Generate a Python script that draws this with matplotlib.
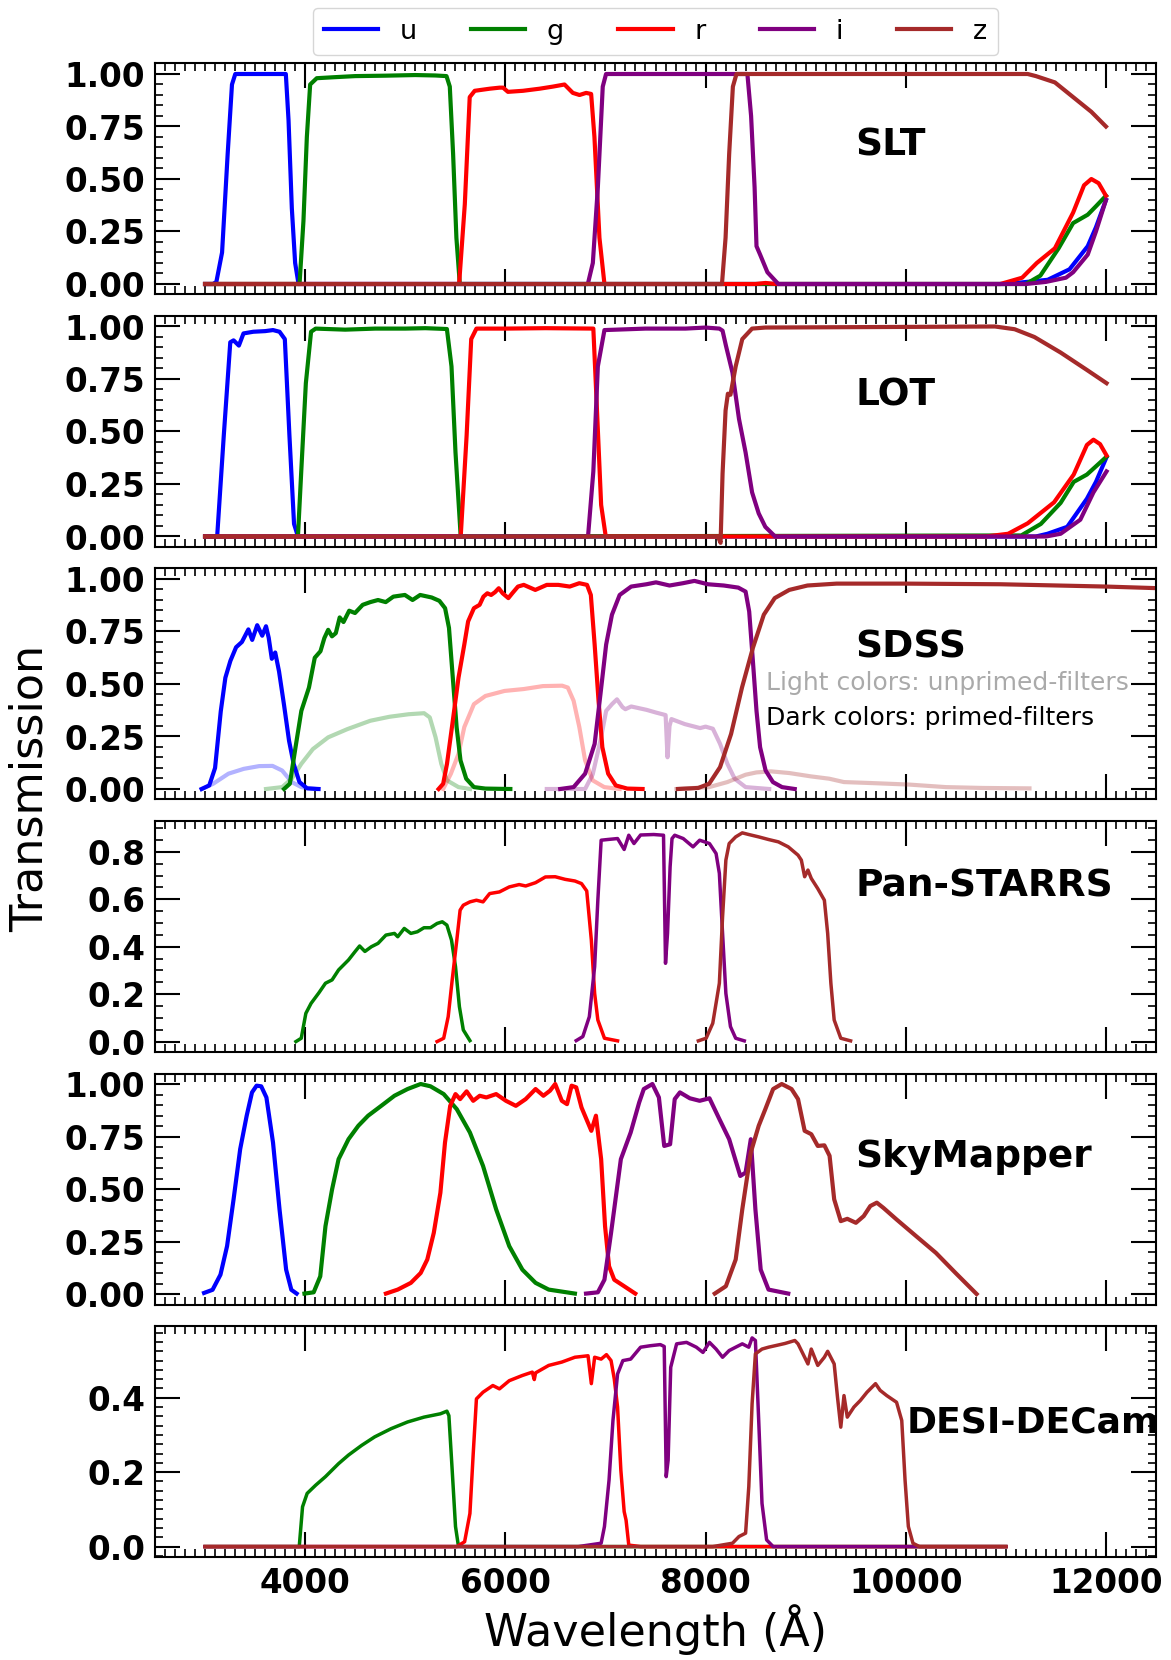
import matplotlib
matplotlib.use('Agg')
import matplotlib.pyplot as plt
from matplotlib.ticker import MultipleLocator, FormatStrFormatter
import numpy as np

# ---------------- data (wavelength [A], transmission) ----------------
FILTERS = ['u', 'g', 'r', 'i', 'z']
COLORS = ['blue', 'green', 'red', 'purple', 'brown']

slt_u = [(3000,0),(3080,0),(3113,0.01),(3170,0.15),(3226,0.62),(3269,0.95),(3302,1.0),(3807,1.0),(3834,0.78),(3867,0.36),(3900,0.10),(3934,0.0),(11000,0.0),(11418,0.02),(11636,0.07),(11818,0.18),(11900,0.27),(12000,0.40)]
slt_g = [(3000,0),(3944,0),(3983,0.30),(4017,0.70),(4050,0.95),(4116,0.98),(4300,0.985),(4500,0.99),(4800,0.992),(5100,0.995),(5300,0.993),(5412,0.99),(5445,0.94),(5478,0.62),(5511,0.22),(5545,0.0),(11200,0.0),(11345,0.04),(11527,0.17),(11672,0.29),(11818,0.33),(11900,0.37),(12000,0.42)]
slt_r = [(3000,0),(5538,0),(5595,0.38),(5644,0.89),(5694,0.92),(5844,0.93),(5943,0.935),(5977,0.935),(6026,0.915),(6176,0.92),(6342,0.93),(6475,0.94),(6591,0.95),(6674,0.91),(6741,0.90),(6807,0.91),(6857,0.905),(6890,0.70),(6940,0.22),(6990,0.0),(8500,0.0),(8600,0.005),(8700,0.0),(10945,0.0),(11163,0.03),(11309,0.10),(11490,0.17),(11672,0.34),(11781,0.47),(11854,0.50),(11927,0.48),(12000,0.42)]
slt_i = [(3000,0),(6824,0),(6874,0.10),(6924,0.46),(6973,0.94),(7006,1.0),(8418,1.0),(8455,0.80),(8490,0.46),(8509,0.18),(8545,0.14),(8618,0.056),(8727,0.0),(11200,0.0),(11400,0.01),(11600,0.03),(11672,0.056),(11818,0.14),(11900,0.25),(12000,0.40)]
slt_z = [(3000,0),(8164,0),(8200,0.22),(8236,0.62),(8273,0.94),(8309,1.0),(11218,1.0),(11300,0.99),(11490,0.96),(11672,0.89),(11854,0.82),(12000,0.75)]

lot_u = [(3000,0),(3121,0),(3187,0.48),(3252,0.925),(3285,0.934),(3338,0.909),(3384,0.967),(3482,0.975),(3600,0.978),(3679,0.983),(3744,0.975),(3797,0.94),(3843,0.48),(3889,0.06),(3928,0.0),(11300,0.0),(11416,0.013),(11613,0.046),(11810,0.18),(11900,0.26),(12006,0.378)]
lot_g = [(3000,0),(3928,0),(3961,0.31),(4007,0.73),(4059,0.975),(4105,0.99),(4400,0.985),(4700,0.99),(5000,0.99),(5200,0.992),(5416,0.988),(5462,0.81),(5502,0.40),(5554,0.0),(11154,0.005),(11350,0.06),(11547,0.16),(11678,0.26),(11810,0.295),(12006,0.38)]
lot_r = [(3000,0),(5554,0),(5613,0.48),(5659,0.94),(5711,0.99),(6000,0.99),(6400,0.992),(6879,0.99),(6911,0.65),(6957,0.15),(7003,0.0),(10800,0.0),(11023,0.013),(11219,0.063),(11482,0.163),(11678,0.295),(11810,0.436),(11875,0.461),(11941,0.44),(12006,0.386)]
lot_i = [(3000,0),(6826,0),(6879,0.31),(6924,0.81),(6990,0.983),(7400,0.99),(7800,0.99),(8000,0.995),(8138,0.99),(8170,0.98),(8203,0.91),(8269,0.78),(8334,0.56),(8400,0.40),(8465,0.21),(8531,0.11),(8597,0.046),(8695,0.0),(11400,0.0),(11547,0.013),(11744,0.08),(11875,0.21),(12006,0.31)]
lot_z = [(3000,0),(8124,0),(8150,-0.03),(8170,0.30),(8200,0.60),(8223,0.68),(8249,0.675),(8301,0.81),(8367,0.94),(8465,0.99),(8597,0.995),(10892,1.0),(11088,0.987),(11285,0.95),(11547,0.876),(11810,0.793),(12006,0.73)]

# SDSS primed (dark) filters
sdss_u = [(2966,0),(3042,0.017),(3100,0.10),(3157,0.37),(3203,0.53),(3253,0.61),(3310,0.675),(3368,0.70),(3433,0.76),(3471,0.71),(3521,0.78),(3571,0.73),(3609,0.775),(3636,0.72),(3667,0.62),(3701,0.65),(3739,0.56),(3789,0.40),(3839,0.23),(3885,0.12),(3943,0.033),(4019,0.003),(4134,0.0)]
sdss_g = [(3789,0),(3847,0.025),(3904,0.199),(3962,0.372),(4038,0.483),(4096,0.625),(4153,0.656),(4192,0.719),(4230,0.758),(4268,0.727),(4306,0.742),(4345,0.817),(4383,0.795),(4440,0.849),(4498,0.838),(4575,0.877),(4651,0.89),(4728,0.90),(4805,0.89),(4881,0.916),(4996,0.924),(5073,0.90),(5149,0.924),(5264,0.912),(5341,0.896),(5398,0.861),(5437,0.767),(5475,0.53),(5513,0.295),(5552,0.136),(5609,0.049),(5686,0.009),(5801,0.002),(6050,0)]
sdss_r = [(5333,0),(5379,0.025),(5417,0.12),(5475,0.325),(5532,0.53),(5590,0.688),(5628,0.798),(5686,0.861),(5743,0.877),(5781,0.916),(5820,0.932),(5858,0.924),(5896,0.937),(5934,0.956),(5973,0.932),(6030,0.909),(6069,0.932),(6126,0.964),(6184,0.972),(6299,0.948),(6414,0.972),(6529,0.972),(6643,0.964),(6739,0.98),(6816,0.972),(6854,0.924),(6892,0.688),(6931,0.42),(6969,0.199),(7027,0.073),(7103,0.017),(7218,0.002),(7371,0)]
sdss_i = [(6548,0),(6682,0.009),(6797,0.073),(6892,0.215),(6950,0.451),(7007,0.688),(7065,0.83),(7142,0.924),(7257,0.964),(7410,0.975),(7505,0.984),(7640,0.969),(7774,0.98),(7889,0.991),(8023,0.975),(8182,0.969),(8327,0.959),(8400,0.94),(8436,0.845),(8473,0.609),(8509,0.372),(8545,0.199),(8600,0.088),(8673,0.033),(8764,0.009),(8891,0)]
sdss_z = [(7724,0),(7927,0.005),(8036,0.025),(8145,0.104),(8255,0.262),(8364,0.483),(8473,0.672),(8582,0.83),(8691,0.909),(8836,0.948),(9018,0.969),(9309,0.978),(10000,0.978),(10945,0.975),(12000,0.964),(12600,0.955)]
# SDSS unprimed (light) filters
sdss_u0 = [(2966,0),(3081,0.025),(3234,0.073),(3387,0.096),(3540,0.109),(3674,0.11),(3770,0.088),(3866,0.033),(3962,0.009),(4106,0)]
sdss_g0 = [(3609,0),(3770,0.009),(3866,0.049),(3962,0.12),(4077,0.19),(4230,0.246),(4421,0.285),(4651,0.325),(4843,0.344),(5034,0.356),(5188,0.361),(5245,0.341),(5303,0.246),(5360,0.12),(5417,0.041),(5532,0.009),(5647,0)]
sdss_r0 = [(5379,0),(5456,0.073),(5532,0.167),(5590,0.295),(5686,0.404),(5801,0.443),(5992,0.467),(6184,0.476),(6375,0.49),(6567,0.492),(6624,0.483),(6682,0.42),(6739,0.295),(6797,0.136),(6873,0.041),(6988,0.009),(7142,0)]
sdss_i0 = [(6414,0),(6797,0.0),(6873,0.07),(6950,0.23),(7007,0.372),(7065,0.404),(7115,0.427),(7170,0.39),(7199,0.38),(7257,0.393),(7333,0.385),(7410,0.377),(7505,0.364),(7601,0.352),(7620,0.151),(7640,0.30),(7659,0.333),(7793,0.309),(7946,0.29),(8000,0.297),(8073,0.287),(8145,0.215),(8218,0.12),(8291,0.049),(8400,0.009),(8636,0)]
sdss_z0 = [(7709,0),(8036,0.009),(8218,0.033),(8400,0.068),(8509,0.079),(8654,0.084),(8836,0.076),(9054,0.06),(9236,0.049),(9382,0.033),(9673,0.028),(10036,0.021),(10400,0.009),(10764,0.005),(11236,0.003)]

ps_g = [(3908,0.0),(3961,0.014),(4007,0.119),(4059,0.161),(4138,0.206),(4203,0.246),(4269,0.26),(4334,0.302),(4433,0.344),(4498,0.379),(4544,0.403),(4597,0.38),(4662,0.40),(4728,0.414),(4807,0.449),(4892,0.456),(4925,0.442),(4990,0.477),(5056,0.456),(5121,0.463),(5187,0.48),(5252,0.48),(5318,0.498),(5370,0.505),(5416,0.491),(5462,0.428),(5502,0.316),(5541,0.147),(5580,0.049),(5646,0.004)]
ps_r = [(5318,0.0),(5384,0.014),(5429,0.105),(5469,0.26),(5515,0.428),(5548,0.554),(5580,0.575),(5646,0.589),(5711,0.596),(5777,0.589),(5843,0.624),(5941,0.631),(6039,0.652),(6138,0.662),(6203,0.656),(6302,0.67),(6400,0.694),(6498,0.695),(6597,0.684),(6695,0.677),(6761,0.666),(6813,0.635),(6859,0.428),(6892,0.203),(6924,0.091),(6990,0.014),(7121,0.003)]
ps_i = [(6708,0.004),(6774,0.021),(6839,0.105),(6892,0.316),(6924,0.596),(6957,0.849),(7023,0.852),(7121,0.856),(7187,0.81),(7233,0.87),(7285,0.835),(7351,0.871),(7482,0.873),(7580,0.87),(7600,0.33),(7620,0.456),(7646,0.737),(7665,0.856),(7692,0.87),(7777,0.856),(7875,0.821),(7941,0.849),(8039,0.835),(8105,0.793),(8138,0.709),(8170,0.456),(8203,0.203),(8249,0.063),(8301,0.014),(8387,0.003)]
ps_z = [(7928,0.003),(8006,0.014),(8072,0.077),(8138,0.246),(8170,0.526),(8203,0.765),(8236,0.835),(8301,0.863),(8367,0.88),(8432,0.873),(8531,0.863),(8629,0.852),(8728,0.842),(8826,0.821),(8924,0.786),(8957,0.765),(8990,0.695),(9023,0.723),(9056,0.688),(9121,0.645),(9187,0.596),(9220,0.456),(9252,0.246),(9285,0.091),(9351,0.014),(9449,0.003)]

sm_u = [(2990,0.005),(3075,0.02),(3154,0.092),(3220,0.228),(3285,0.451),(3351,0.69),(3416,0.849),(3469,0.96),(3515,0.992),(3561,0.989),(3613,0.936),(3679,0.721),(3744,0.403),(3810,0.116),(3862,0.02),(3915,0.002)]
sm_g = [(3993,0.002),(4085,0.008),(4151,0.084),(4203,0.323),(4269,0.498),(4334,0.642),(4433,0.737),(4531,0.801),(4629,0.849),(4760,0.896),(4892,0.944),(5023,0.976),(5154,1.0),(5252,0.989),(5384,0.952),(5515,0.88),(5646,0.769),(5777,0.61),(5908,0.403),(6039,0.228),(6170,0.116),(6302,0.053),(6433,0.021),(6695,0.002)]
sm_r = [(4807,0.002),(4925,0.021),(5056,0.053),(5154,0.1),(5220,0.164),(5285,0.291),(5351,0.482),(5397,0.721),(5449,0.896),(5502,0.952),(5548,0.928),(5613,0.965),(5679,0.92),(5744,0.944),(5810,0.936),(5908,0.952),(6006,0.92),(6105,0.896),(6203,0.928),(6302,0.976),(6380,0.944),(6446,0.968),(6498,1.0),(6564,0.92),(6616,0.904),(6662,0.992),(6708,0.984),(6761,0.888),(6859,0.777),(6905,0.849),(6957,0.642),(6996,0.323),(7036,0.132),(7088,0.068),(7187,0.037),(7298,0.002)]
sm_i = [(6806,0.002),(6924,0.008),(6990,0.068),(7056,0.291),(7154,0.642),(7252,0.769),(7337,0.912),(7383,0.976),(7469,1.0),(7534,0.936),(7587,0.705),(7646,0.713),(7692,0.928),(7744,0.96),(7843,0.932),(7941,0.92),(8039,0.932),(8138,0.833),(8236,0.737),(8347,0.562),(8400,0.578),(8452,0.737),(8498,0.403),(8551,0.116),(8629,0.021),(8826,0.002)]
sm_z = [(8092,0.002),(8203,0.037),(8301,0.164),(8367,0.403),(8452,0.674),(8531,0.801),(8597,0.88),(8675,0.976),(8761,1.0),(8859,0.976),(8924,0.928),(8990,0.777),(9056,0.761),(9121,0.705),(9187,0.708),(9239,0.658),(9285,0.451),(9351,0.347),(9416,0.358),(9502,0.339),(9580,0.371),(9646,0.419),(9711,0.435),(9777,0.41),(9908,0.355),(10105,0.275),(10301,0.196),(10498,0.1),(10708,0.0)]

de_g = [(3000,0),(3941,0),(3974,0.107),(4020,0.143),(4105,0.165),(4203,0.188),(4334,0.223),(4433,0.246),(4564,0.272),(4695,0.295),(4859,0.317),(5023,0.335),(5187,0.348),(5351,0.357),(5416,0.364),(5436,0.352),(5469,0.205),(5502,0.054),(5528,0.007),(5580,0),(11000,0)]
de_r = [(3000,0),(5515,0),(5593,0.013),(5646,0.089),(5679,0.25),(5711,0.397),(5777,0.415),(5875,0.433),(5941,0.424),(6039,0.446),(6170,0.46),(6269,0.469),(6289,0.449),(6302,0.467),(6433,0.487),(6564,0.496),(6695,0.509),(6826,0.513),(6859,0.438),(6892,0.509),(6957,0.504),(7010,0.516),(7056,0.5),(7088,0.451),(7121,0.375),(7154,0.205),(7187,0.094),(7206,0.071),(7233,0.004),(7351,0),(11000,0)]
de_i = [(3000,0),(6728,0),(6957,0.009),(6990,0.054),(7036,0.179),(7075,0.339),(7121,0.464),(7174,0.5),(7252,0.504),(7351,0.536),(7449,0.54),(7548,0.543),(7587,0.538),(7607,0.188),(7626,0.232),(7652,0.482),(7711,0.545),(7810,0.549),(7908,0.536),(7974,0.522),(8039,0.549),(8105,0.531),(8170,0.509),(8236,0.527),(8301,0.536),(8367,0.545),(8432,0.536),(8465,0.561),(8498,0.554),(8531,0.339),(8564,0.116),(8610,0.018),(8675,0),(11000,0)]
de_z = [(3000,0),(8072,0),(8269,0.009),(8334,0.027),(8400,0.036),(8432,0.161),(8465,0.384),(8498,0.518),(8564,0.531),(8629,0.536),(8695,0.54),(8793,0.546),(8892,0.554),(8924,0.545),(8990,0.509),(9023,0.491),(9056,0.531),(9121,0.487),(9187,0.509),(9220,0.525),(9285,0.491),(9318,0.402),(9351,0.321),(9383,0.406),(9416,0.348),(9482,0.375),(9547,0.393),(9613,0.415),(9698,0.438),(9744,0.42),(9810,0.406),(9908,0.388),(9960,0.339),(9993,0.179),(10026,0.054),(10072,0.009),(10137,0),(11000,0)]

PANEL_NAMES = ['SLT', 'LOT', 'SDSS', 'Pan-STARRS', 'SkyMapper', 'DESI-DECam']
PANEL_CURVES = [
    [slt_u, slt_g, slt_r, slt_i, slt_z],
    [lot_u, lot_g, lot_r, lot_i, lot_z],
    [sdss_u, sdss_g, sdss_r, sdss_i, sdss_z],
    [None, ps_g, ps_r, ps_i, ps_z],
    [sm_u, sm_g, sm_r, sm_i, sm_z],
    [None, de_g, de_r, de_i, de_z],
]
SDSS_LIGHT = [sdss_u0, sdss_g0, sdss_r0, sdss_i0, sdss_z0]
YLIMS = [(-0.05, 1.05), (-0.05, 1.05), (-0.05, 1.05), (-0.044, 0.93), (-0.05, 1.05), (-0.028, 0.593)]
YMAJOR = [0.25, 0.25, 0.25, 0.2, 0.25, 0.2]
YMINOR = [0.05, 0.05, 0.05, 0.05, 0.05, 0.025]
YFMT = ['%.2f', '%.2f', '%.2f', '%.1f', '%.2f', '%.1f']
LABEL_POS = [(0.70, 0.647), (0.70, 0.654), (0.70, 0.656), (0.70, 0.717), (0.70, 0.638), (0.751, 0.583)]
LABEL_SIZE = [27, 27, 27, 27, 27, 26]
LW = [3, 3, 3, 2.5, 3, 2.5]

# ---------------- figure ----------------
plt.rcParams['font.family'] = ['DejaVu Sans']
plt.rcParams['font.weight'] = 'bold'

W, H = 1171, 1660
fig = plt.figure(figsize=(W / 100, H / 100), dpi=100)
left, width = 155, 1001
top0, ph, step = 63.5, 231, 252.5

axes = []
for k in range(6):
    ax = fig.add_axes([left / W, 1 - (top0 + k * step + ph) / H, width / W, ph / H])
    axes.append(ax)
    if k == 2:
        for c, col in zip(SDSS_LIGHT, COLORS):
            a = np.array(c)
            ax.plot(a[:, 0], a[:, 1], color=col, lw=LW[k], alpha=0.3)
    for c, col, name in zip(PANEL_CURVES[k], COLORS, FILTERS):
        if c is None:
            continue
        a = np.array(c)
        ax.plot(a[:, 0], a[:, 1], color=col, lw=LW[k], label=name)
    ax.set_xlim(2500, 12500)
    ax.set_ylim(*YLIMS[k])
    ax.xaxis.set_major_locator(MultipleLocator(2000))
    ax.xaxis.set_minor_locator(MultipleLocator(100))
    ax.yaxis.set_major_locator(MultipleLocator(YMAJOR[k]))
    ax.yaxis.set_minor_locator(MultipleLocator(YMINOR[k]))
    ax.yaxis.set_major_formatter(FormatStrFormatter(YFMT[k]))
    ax.tick_params(which='both', direction='in', top=True, right=True)
    ax.tick_params(which='major', length=18, width=1.5, labelsize=23.5, pad=7)
    ax.tick_params(which='minor', length=6, width=1.2)
    if k < 5:
        ax.tick_params(labelbottom=False)
    for s in ax.spines.values():
        s.set_linewidth(1.5)
    ax.text(LABEL_POS[k][0], LABEL_POS[k][1], PANEL_NAMES[k], transform=ax.transAxes,
            fontsize=LABEL_SIZE[k], fontweight='bold', ha='left', va='center')

axes[2].text(0.61, 0.505, 'Light colors: unprimed-filters', transform=axes[2].transAxes,
             fontsize=18, fontweight='normal', color='#aaaaaa', ha='left', va='center')
axes[2].text(0.61, 0.353, 'Dark colors: primed-filters', transform=axes[2].transAxes,
             fontsize=18, fontweight='normal', color='black', ha='left', va='center')

axes[0].legend(loc='lower center', bbox_to_anchor=(0.5, 1.0), ncol=5,
               prop={'size': 19.5, 'weight': 'normal'}, borderaxespad=0.3)

fig.text(655 / W, 1 - 1630 / H, 'Wavelength (Å)', fontsize=32, fontweight='normal',
         ha='center', va='center')
fig.text(30 / W, 1 - 788 / H, 'Transmission', fontsize=32, fontweight='normal',
         rotation=90, ha='center', va='center')

fig.savefig('out.png', dpi=100)
